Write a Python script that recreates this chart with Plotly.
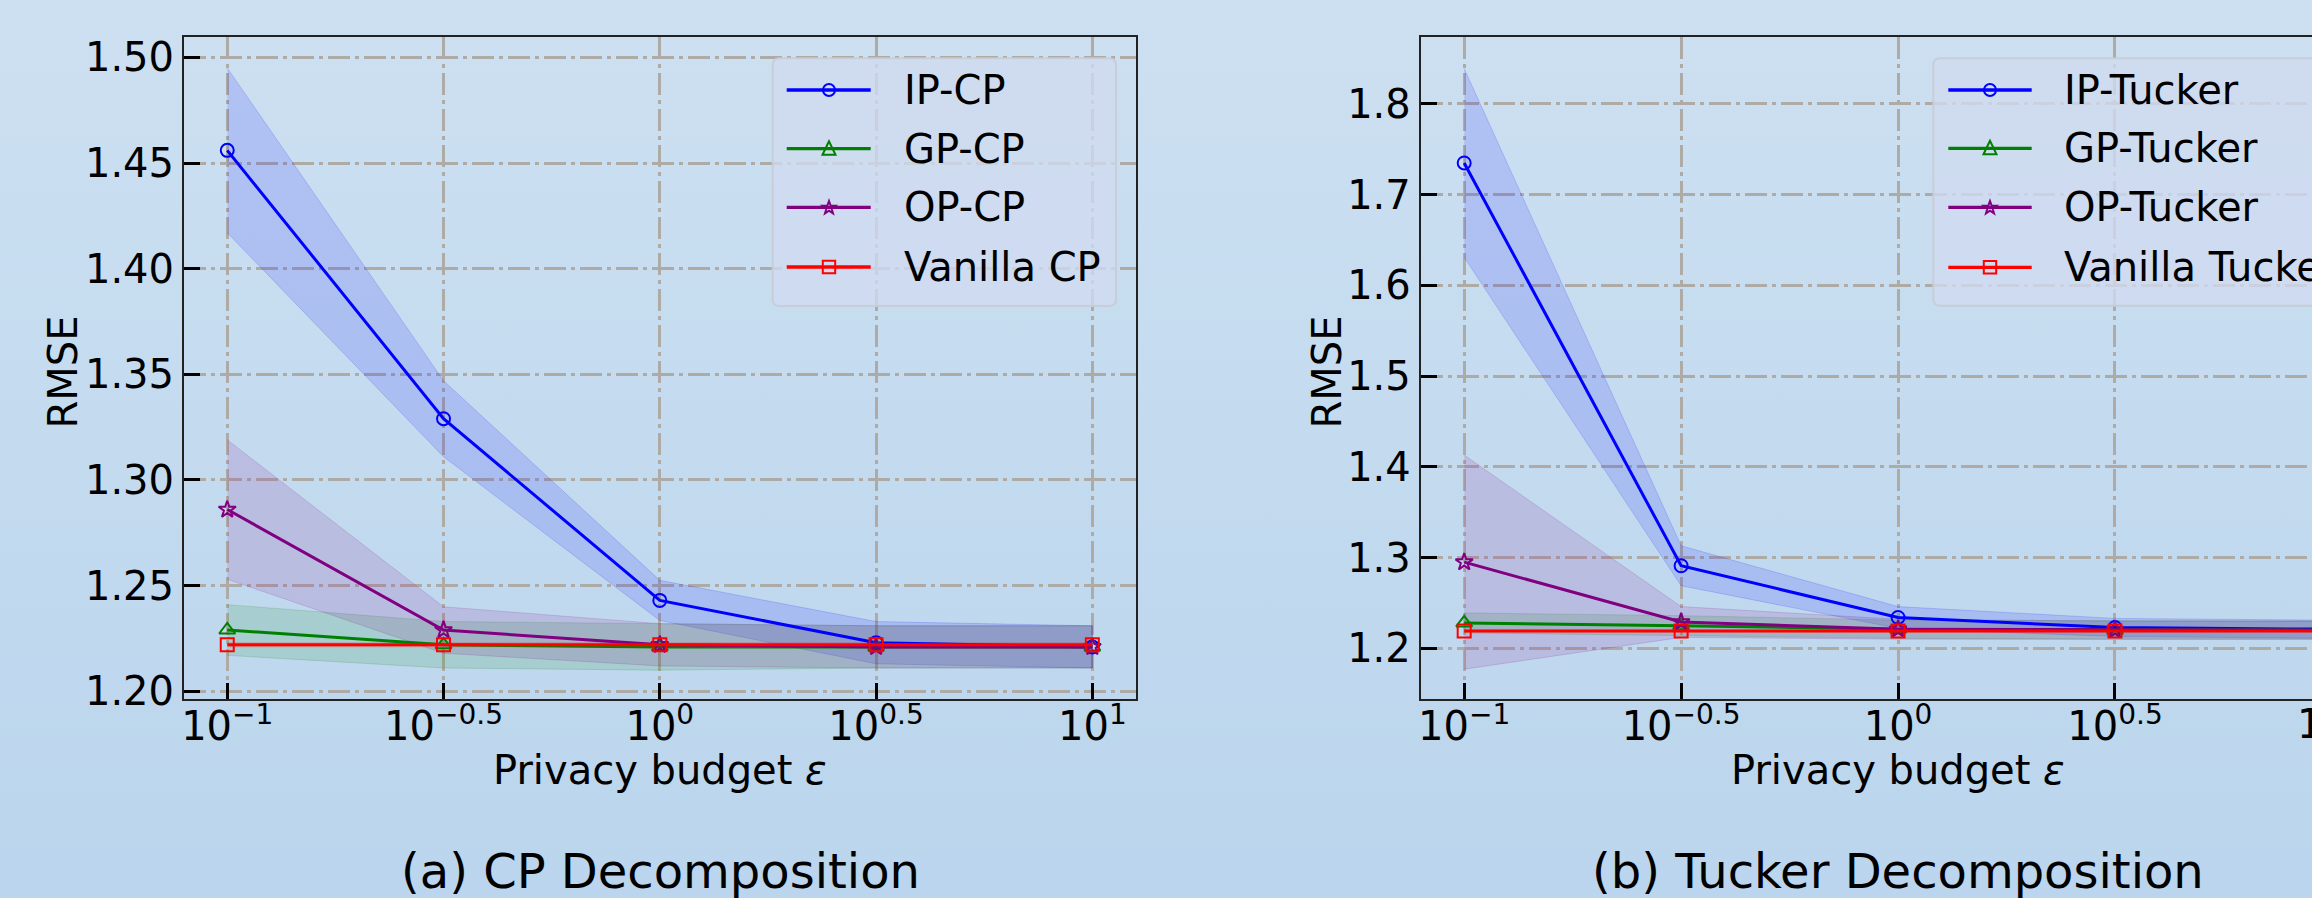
import base64
import math
import plotly.graph_objects as go

W, H = 2312, 898
FONT = "DejaVu Sans"

# ---------------- data ----------------
eps = [0.1, 10 ** -0.5, 1.0, 10 ** 0.5, 10.0]
eps_exp = [-1, -0.5, 0, 0.5, 1]
tick_text = ["10<sup>−1</sup>", "10<sup>−0.5</sup>", "10<sup>0</sup>", "10<sup>0.5</sup>", "10<sup>1</sup>"]

cp_names = ["IP-CP", "GP-CP", "OP-CP", "Vanilla CP"]
ip_cp = [1.456, 1.329, 1.243, 1.223, 1.221]
ip_cp_std = [0.039, 0.018, 0.0095, 0.010, 0.010]
gp_cp = [1.229, 1.222, 1.221, 1.221, 1.221]
gp_cp_std = [0.012, 0.011, 0.011, 0.010, 0.010]
op_cp = [1.286, 1.229, 1.222, 1.221, 1.221]
op_cp_std = [0.033, 0.011, 0.010, 0.010, 0.010]
va_cp = [1.222, 1.222, 1.222, 1.222, 1.222]
va_cp_std = [0.001, 0.001, 0.001, 0.001, 0.001]

tk_names = ["IP-Tucker", "GP-Tucker", "OP-Tucker", "Vanilla Tucker"]
ip_tk = [1.735, 1.291, 1.234, 1.223, 1.221]
ip_tk_std = [0.104, 0.022, 0.012, 0.010, 0.010]
gp_tk = [1.228, 1.225, 1.221, 1.220, 1.220]
gp_tk_std = [0.011, 0.011, 0.010, 0.010, 0.010]
op_tk = [1.295, 1.229, 1.221, 1.220, 1.220]
op_tk_std = [0.118, 0.017, 0.011, 0.010, 0.010]
va_tk = [1.219, 1.219, 1.219, 1.219, 1.219]
va_tk_std = [0.001, 0.001, 0.001, 0.001, 0.001]

cp_yticks = [1.20, 1.25, 1.30, 1.35, 1.40, 1.45, 1.50]
cp_yticktext = ["1.20", "1.25", "1.30", "1.35", "1.40", "1.45", "1.50"]
tk_yticks = [1.2, 1.3, 1.4, 1.5, 1.6, 1.7, 1.8]
tk_yticktext = ["1.2", "1.3", "1.4", "1.5", "1.6", "1.7", "1.8"]

colors = ["#0000ff", "#008000", "#800080", "#ff0000"]
band_rgb = ["0,0,255", "0,128,0", "128,0,128", "255,0,0"]
symbols = ["circle-open", "triangle-up-open", "star-open", "square-open"]
msizes = [13, 14, 13, 13]

# ---------------- layout geometry ----------------
def px(x):
    return x / W

def py(y):
    return 1 - y / H

L_X = (184.0, 1135.6)
R_X = (1420.8, W)
Y_PIX = (37.3, 699.3)
x_range_l = [-1.1, 1.1]
x_range_r = [-1.1, -1 + (W - 1464.9) / 433.5]
y_range_l = [1.1962, 1.5095]
y_range_r = [1.1438, 1.8735]
XLAB_SHIFT = 9

fig = go.Figure()

def add_panel(series, stds, xa, ya):
    # bands
    for k, (m, s) in enumerate(zip(series, stds)):
        up = [a + b for a, b in zip(m, s)]
        lo = [a - b for a, b in zip(m, s)]
        fig.add_trace(go.Scatter(
            x=eps + eps[::-1], y=up + lo[::-1], fill="toself",
            fillcolor=f"rgba({band_rgb[k]},0.13)",
            line=dict(color=f"rgba({band_rgb[k]},0.15)", width=1),
            mode="lines", hoverinfo="skip", showlegend=False,
            xaxis=xa, yaxis=ya))
    for k, m in enumerate(series):
        fig.add_trace(go.Scatter(
            x=eps, y=m, mode="lines+markers",
            line=dict(color=colors[k], width=3),
            marker=dict(symbol=symbols[k], size=msizes[k], color=colors[k],
                        line=dict(color=colors[k], width=2)),
            showlegend=False, xaxis=xa, yaxis=ya))

add_panel([ip_cp, gp_cp, op_cp, va_cp], [ip_cp_std, gp_cp_std, op_cp_std, va_cp_std], "x", "y")
add_panel([ip_tk, gp_tk, op_tk, va_tk], [ip_tk_std, gp_tk_std, op_tk_std, va_tk_std], "x2", "y2")

GRID = "#aeaba7"
DASH = "22px,5px,4px,5px"
tickfont = dict(family=FONT, size=40, color="black")

common_x = dict(type="log", tickvals=eps, ticktext=tick_text, ticks="inside", ticklen=16,
                tickwidth=3, tickcolor="black", showline=True, linecolor="#222222", linewidth=2,
                showgrid=True, gridcolor=GRID, gridwidth=3.3, griddash=DASH, zeroline=False,
                tickfont=tickfont, ticklabelstandoff=-XLAB_SHIFT)
common_y = dict(ticks="inside", ticklen=16, tickwidth=3, tickcolor="black", showline=True,
                linecolor="#222222", linewidth=2, showgrid=True, gridcolor=GRID, gridwidth=3.3,
                griddash=DASH, zeroline=False, tickfont=tickfont)

fig.update_layout(
    xaxis=dict(common_x, domain=[px(L_X[0]), px(L_X[1])], range=x_range_l, anchor="y", mirror=True),
    yaxis=dict(common_y, domain=[py(Y_PIX[1]), py(Y_PIX[0])], range=y_range_l, anchor="x",
               tickvals=cp_yticks, ticktext=cp_yticktext, mirror=True),
    xaxis2=dict(common_x, domain=[px(R_X[0]), 1.0], range=x_range_r, anchor="y2", mirror=True),
    yaxis2=dict(common_y, domain=[py(Y_PIX[1]), py(Y_PIX[0])], range=y_range_r, anchor="x2",
                tickvals=tk_yticks, ticktext=tk_yticktext, mirror=False),
)

# partially visible last tick label of right panel (outside the visible range)
r_span = x_range_r[1] - x_range_r[0]
x_last = px(R_X[0]) + (eps_exp[-1] - x_range_r[0]) / r_span * (1.0 - px(R_X[0]))

annotations = []
annotations.append(dict(x=x_last, y=py(699.3 + 3 - XLAB_SHIFT), xref="paper", yref="paper",
                        text=tick_text[-1], showarrow=False, xanchor="center", yanchor="top",
                        font=dict(family=FONT, size=40, color="black")))

# axis titles & panel captions
for cx in [660.0, 1898.4]:
    annotations.append(dict(x=px(cx), y=py(769.5), xref="paper", yref="paper",
                            text="Privacy budget <i>ε</i>", showarrow=False,
                            xanchor="center", yanchor="middle",
                            font=dict(family=FONT, size=40, color="black")))
for cx in [63.0, 1327.0]:
    annotations.append(dict(x=px(cx), y=py(372.5), xref="paper", yref="paper", text="RMSE",
                            textangle=-90, showarrow=False, xanchor="center", yanchor="middle",
                            font=dict(family=FONT, size=40, color="black")))
annotations.append(dict(x=px(660.4), y=py(871.0), xref="paper", yref="paper",
                        text="(a) CP Decomposition", showarrow=False, xanchor="center",
                        yanchor="middle", font=dict(family=FONT, size=48, color="black")))
annotations.append(dict(x=px(1898.4), y=py(871.0), xref="paper", yref="paper",
                        text="(b) Tucker Decomposition", showarrow=False, xanchor="center",
                        yanchor="middle", font=dict(family=FONT, size=48, color="black")))

# ---------------- manual legends ----------------
shapes = []

def rounded_rect(x0, y0, x1, y1, r):
    def P(x, y):
        return f"{px(x):.6f},{py(y):.6f}"
    path = (f"M {P(x0 + r, y0)} L {P(x1 - r, y0)} Q {P(x1, y0)} {P(x1, y0 + r)} "
            f"L {P(x1, y1 - r)} Q {P(x1, y1)} {P(x1 - r, y1)} L {P(x0 + r, y1)} "
            f"Q {P(x0, y1)} {P(x0, y1 - r)} L {P(x0, y0 + r)} Q {P(x0, y0)} {P(x0 + r, y0)} Z")
    return path

def poly_path(pts):
    return "M " + " L ".join(f"{px(x):.6f},{py(y):.6f}" for x, y in pts) + " Z"

def legend_marker(k, cx, cy):
    c = colors[k]
    if k == 0:
        r = 6.0
        shapes.append(dict(type="circle", xref="paper", yref="paper", x0=px(cx - r), x1=px(cx + r),
                           y0=py(cy + r), y1=py(cy - r), line=dict(color=c, width=2),
                           fillcolor="rgba(0,0,0,0)", layer="above"))
    elif k == 1:
        pts = [(cx, cy - 7.5), (cx - 6.5, cy + 6.0), (cx + 6.5, cy + 6.0)]
        shapes.append(dict(type="path", xref="paper", yref="paper", path=poly_path(pts),
                           line=dict(color=c, width=2), fillcolor="rgba(0,0,0,0)", layer="above"))
    elif k == 2:
        pts = []
        for i in range(10):
            ang = -math.pi / 2 + i * math.pi / 5
            rr = 6.8 if i % 2 == 0 else 2.8
            pts.append((cx + rr * math.cos(ang), cy + rr * math.sin(ang) + 0.5))
        shapes.append(dict(type="path", xref="paper", yref="paper", path=poly_path(pts),
                           line=dict(color=c, width=2), fillcolor="rgba(0,0,0,0)", layer="above"))
    else:
        h = 6.2
        shapes.append(dict(type="rect", xref="paper", yref="paper", x0=px(cx - h), x1=px(cx + h),
                           y0=py(cy + h), y1=py(cy - h), line=dict(color=c, width=2),
                           fillcolor="rgba(0,0,0,0)", layer="above"))

def legend(names, box, line_x, mark_x, text_x, ys):
    x0, y0, x1, y1 = box
    shapes.append(dict(type="path", xref="paper", yref="paper", path=rounded_rect(x0, y0, x1, y1, 7),
                       fillcolor="rgba(207,219,240,0.8)", line=dict(color="rgba(200,204,212,0.9)", width=2),
                       layer="above"))
    for k, name in enumerate(names):
        yy = ys[k]
        shapes.append(dict(type="line", xref="paper", yref="paper", x0=px(line_x[0]), x1=px(line_x[1]),
                           y0=py(yy), y1=py(yy), line=dict(color=colors[k], width=3.3), layer="above"))
        legend_marker(k, mark_x, yy)
        annotations.append(dict(x=px(text_x), y=py(yy), xref="paper", yref="paper", text=name,
                                showarrow=False, xanchor="left", yanchor="middle",
                                font=dict(family=FONT, size=40, color="black")))

legend(cp_names, (772.7, 58.3, 1116.0, 306.0), (786.7, 870.7), 829.0, 901.5, [90.0, 148.7, 207.3, 267.0])
legend(tk_names, (1933.3, 58.3, 2420.0, 305.7), (1948.3, 2031.7), 1990.0, 2062.0, [90.0, 148.3, 207.3, 267.3])

# ---------------- background gradient ----------------
svg = (f'<svg xmlns="http://www.w3.org/2000/svg" width="{W}" height="{H}" viewBox="0 0 {W} {H}" '
       f'preserveAspectRatio="none"><defs><linearGradient id="g" x1="0" y1="0" x2="0" y2="1">'
       f'<stop offset="0" stop-color="#cde0f1"/><stop offset="1" stop-color="#bad5ed"/>'
       f'</linearGradient></defs><rect width="{W}" height="{H}" fill="url(#g)"/></svg>')
bg_src = "data:image/svg+xml;base64," + base64.b64encode(svg.encode()).decode()

fig.update_layout(
    width=W, height=H,
    margin=dict(l=0, r=0, t=0, b=0, pad=0, autoexpand=False),
    paper_bgcolor="#c4dbef",
    plot_bgcolor="#cfdbf0",
    showlegend=False,
    font=dict(family=FONT, size=40, color="black"),
    annotations=annotations,
    shapes=shapes,
    images=[dict(source=bg_src, xref="paper", yref="paper", x=0, y=1, sizex=1, sizey=1,
                 sizing="stretch", xanchor="left", yanchor="top", layer="below")],
)

fig.write_html("out.html", config={"displayModeBar": False},
               post_script="document.body.style.margin='0px';document.body.style.overflow='hidden';")
